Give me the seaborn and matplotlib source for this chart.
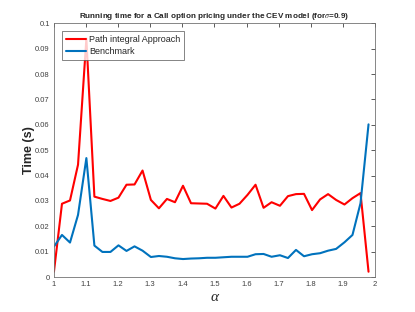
import numpy as np
import pandas as pd
import matplotlib
matplotlib.use("Agg")
import matplotlib.pyplot as plt
import matplotlib.ticker as mticker
import seaborn as sns

# alpha grid (40 points from 1 to 1.98)
alpha = [1.0, 1.025, 1.05, 1.075, 1.101, 1.126, 1.151, 1.176, 1.201, 1.226,
         1.251, 1.276, 1.302, 1.327, 1.352, 1.377, 1.402, 1.427, 1.452, 1.477,
         1.503, 1.528, 1.553, 1.578, 1.603, 1.628, 1.653, 1.678, 1.704, 1.729,
         1.754, 1.779, 1.804, 1.829, 1.854, 1.879, 1.905, 1.930, 1.955, 1.980]

# running time (s)
path_integral = [0.0021, 0.0289, 0.0302, 0.0443, 0.0940, 0.0317, 0.0308, 0.0300, 0.0313, 0.0364,
                 0.0365, 0.0420, 0.0304, 0.0271, 0.0308, 0.0295, 0.0360, 0.0291, 0.0290, 0.0289,
                 0.0270, 0.0320, 0.0274, 0.0289, 0.0324, 0.0364, 0.0273, 0.0295, 0.0281, 0.0319,
                 0.0327, 0.0328, 0.0264, 0.0306, 0.0327, 0.0304, 0.0286, 0.0311, 0.0331, 0.0021]
benchmark = [0.0120, 0.0166, 0.0136, 0.0245, 0.0469, 0.0124, 0.0099, 0.0099, 0.0125, 0.0103,
             0.0121, 0.0104, 0.0079, 0.0083, 0.0080, 0.0074, 0.0071, 0.0073, 0.0074, 0.0076,
             0.0076, 0.0078, 0.0080, 0.0080, 0.0080, 0.0090, 0.0091, 0.0080, 0.0086, 0.0075,
             0.0107, 0.0082, 0.0090, 0.0094, 0.0104, 0.0111, 0.0137, 0.0166, 0.0291, 0.0602]

labels = ["Path integral Approach", "Benchmark"]

df = pd.DataFrame({
    "alpha": alpha * 2,
    "time": path_integral + benchmark,
    "method": [labels[0]] * len(alpha) + [labels[1]] * len(alpha),
})

sns.set_style("white")
plt.rcParams["font.family"] = ["Liberation Sans", "DejaVu Sans"]
plt.rcParams["mathtext.fontset"] = "stix"

fig = plt.figure(figsize=(4.15, 3.12), dpi=100)
ax = fig.add_axes([0.130, 0.112, 0.7735, 0.813])

sns.lineplot(data=df, x="alpha", y="time", hue="method", hue_order=labels,
             palette=["#ff0000", "#0072bd"], linewidth=1.5, ax=ax)

ax.set_xlim(1, 2)
ax.set_ylim(0, 0.1)
ax.xaxis.set_major_locator(mticker.MultipleLocator(0.1))
ax.yaxis.set_major_locator(mticker.MultipleLocator(0.01))
ax.xaxis.set_major_formatter(mticker.FormatStrFormatter("%g"))
ax.yaxis.set_major_formatter(mticker.FuncFormatter(lambda v, p: "%g" % round(v, 3)))
ax.tick_params(direction="in", length=3, width=0.6, labelsize=5.5, colors="0.25",
               top=True, right=True, pad=3)
for s in ax.spines.values():
    s.set_color("0.45")
    s.set_linewidth(0.6)

ax.set_title(r"Running time for a Call option pricing under the CEV model (for$\sigma$=0.9)",
             fontsize=5.9, fontweight="bold", pad=4)
ax.set_ylabel("Time (s)", fontsize=9, fontweight="bold", labelpad=0)
ax.set_xlabel("α", fontsize=11, family="Liberation Serif", style="italic", labelpad=2)

leg = ax.legend(loc="upper left", fontsize=6.5, frameon=True, fancybox=False,
                handlelength=2.3, handletextpad=0.3, borderpad=0.45, labelspacing=0.35,
                borderaxespad=0.85)
leg.get_frame().set_edgecolor("0.3")
leg.get_frame().set_linewidth(0.6)

fig.savefig("out.png", dpi=100)
